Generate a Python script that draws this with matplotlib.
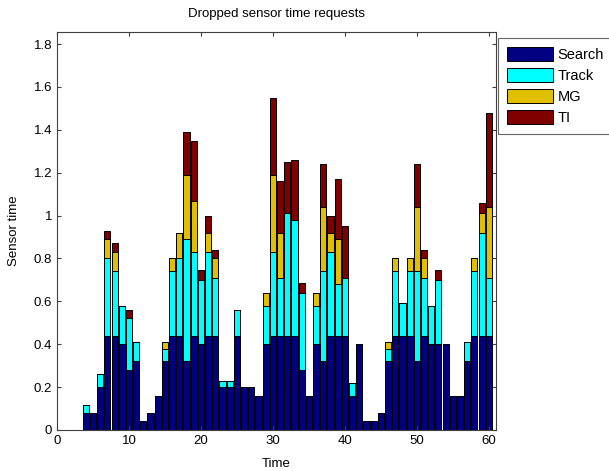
import matplotlib
matplotlib.use('Agg')
import matplotlib.pyplot as plt
import numpy as np

# Dados (x = 4..60)
tempo = list(range(4, 61))
search = [0.08, 0.08, 0.20, 0.44, 0.44, 0.40, 0.28, 0.32, 0.04, 0.08,
          0.16, 0.32, 0.44, 0.44, 0.32, 0.44, 0.40, 0.44, 0.44, 0.20,
          0.20, 0.44, 0.20, 0.20, 0.16, 0.40, 0.44, 0.44, 0.44, 0.44,
          0.28, 0.16, 0.40, 0.32, 0.44, 0.44, 0.44, 0.16, 0.40, 0.04,
          0.04, 0.08, 0.32, 0.44, 0.44, 0.44, 0.32, 0.44, 0.40, 0.40,
          0.40, 0.16, 0.16, 0.32, 0.44, 0.44, 0.44]
track = [0.035, 0, 0.06, 0.36, 0.30, 0.18, 0.24, 0.09, 0, 0,
         0, 0.06, 0.30, 0.36, 0.57, 0.39, 0.30, 0.39, 0.27, 0.03,
         0.03, 0.12, 0, 0, 0, 0.18, 0.39, 0.27, 0.57, 0.54,
         0.36, 0, 0.18, 0.42, 0.39, 0.24, 0.27, 0.06, 0, 0,
         0, 0, 0.06, 0.30, 0.15, 0.30, 0.42, 0.27, 0.18, 0.30,
         0, 0, 0, 0.09, 0.30, 0.48, 0.27]
mg = [0, 0, 0, 0.09, 0.09, 0, 0, 0, 0, 0,
      0, 0.03, 0.06, 0.12, 0.30, 0.24, 0, 0.09, 0.09, 0,
      0, 0, 0, 0, 0, 0.06, 0.36, 0.21, 0, 0,
      0, 0, 0.06, 0.30, 0.09, 0.21, 0, 0, 0, 0,
      0, 0, 0.03, 0.06, 0, 0.06, 0.30, 0.09, 0, 0,
      0, 0, 0, 0, 0.06, 0.09, 0.33]
ti = [0, 0, 0, 0.04, 0.04, 0, 0.04, 0, 0, 0,
      0, 0, 0, 0, 0.20, 0.28, 0.045, 0.08, 0.04, 0,
      0, 0, 0, 0, 0, 0, 0.36, 0.24, 0.24, 0.28,
      0.045, 0, 0, 0.20, 0.08, 0.28, 0.24, 0, 0, 0,
      0, 0, 0, 0, 0, 0, 0.20, 0.04, 0, 0.045,
      0, 0, 0, 0, 0, 0.05, 0.44]

nomes = ['Search', 'Track', 'MG', 'TI']
cores = ['#000080', '#00FFFF', '#E0BE00', '#800000']

xticks = [0, 10, 20, 30, 40, 50, 60]
yticks = [0, 0.2, 0.4, 0.6, 0.8, 1, 1.2, 1.4, 1.6, 1.8]
ylabels = ['0', '0.2', '0.4', '0.6', '0.8', '1', '1.2', '1.4', '1.6', '1.8']

plt.rcParams['font.family'] = ['Liberation Sans', 'DejaVu Sans']
plt.rcParams['font.size'] = 9.5

figura = plt.figure(figsize=(6.09, 4.71), dpi=100)
eixo = figura.add_axes([57/609, 41/471, 439/609, 398/471])

base = np.zeros(len(tempo))
for valores, nome, cor in zip([search, track, mg, ti], nomes, cores):
    eixo.bar(tempo, valores, width=0.85, bottom=base, color=cor,
             edgecolor='black', linewidth=0.7, label=nome)
    base = base + np.array(valores)

eixo.set_xlim(0, 61)
eixo.set_ylim(0, 1.856)
eixo.set_xticks(xticks)
eixo.set_yticks(yticks)
eixo.set_yticklabels(ylabels)
eixo.tick_params(direction='in', top=True, right=True, length=3, color='#404040')
for s in eixo.spines.values():
    s.set_color('#404040')

eixo.set_title('Dropped sensor time requests', fontsize=9.5, pad=11)
eixo.set_xlabel('Time', labelpad=8)
eixo.set_ylabel('Sensor time', labelpad=10)

leg = figura.legend(loc='upper left', bbox_to_anchor=(498/609, 1 - 38/471),
                    bbox_transform=figura.transFigure, fancybox=False,
                    edgecolor='#404040', handlelength=3.2, handleheight=1.15,
                    labelspacing=0.4, borderpad=0.6, handletextpad=0.3,
                    borderaxespad=0, fontsize=10.5)
leg.get_frame().set_linewidth(0.8)

figura.savefig('out.png', dpi=100)
